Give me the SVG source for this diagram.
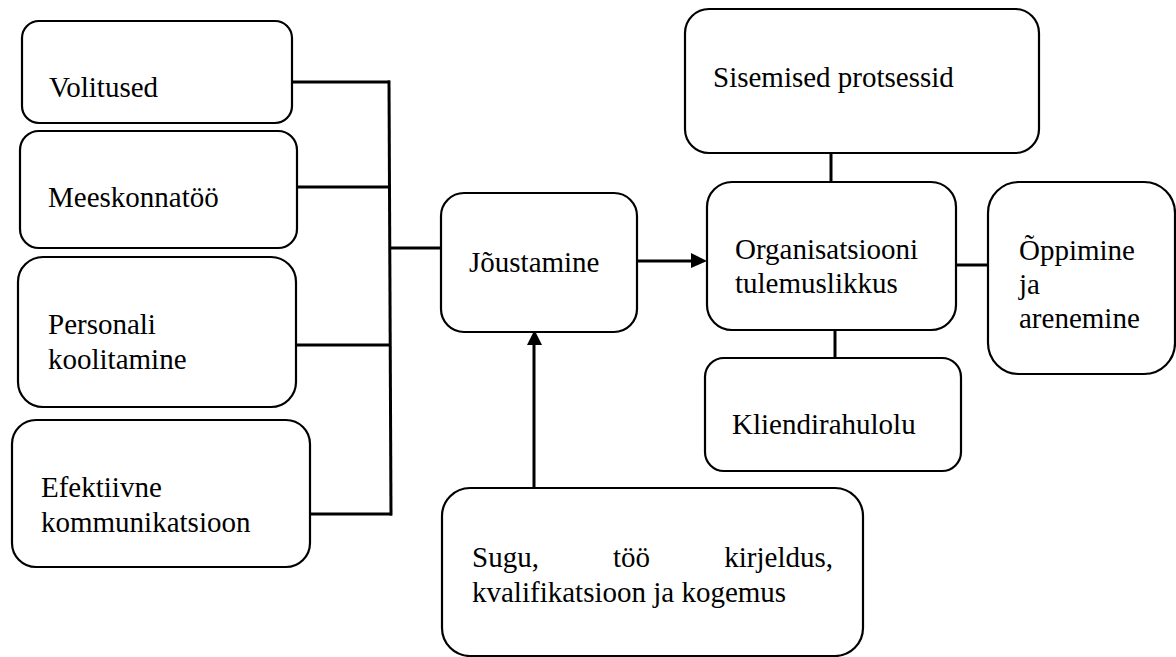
<svg xmlns="http://www.w3.org/2000/svg" width="1176" height="657" viewBox="0 0 1176 657">
<style>
.box{fill:#fff;stroke:#000;stroke-width:2.2}
.t{font-family:"Liberation Serif","Times New Roman",serif;font-size:29px;fill:#000}
.c{stroke:#000;stroke-width:3;fill:none}
</style>
<rect width="1176" height="657" fill="#fff"/>
<g id="connectors">
<line class="c" x1="292" y1="82" x2="390" y2="82"/>
<line class="c" x1="297" y1="187" x2="390" y2="187"/>
<line class="c" x1="296" y1="345" x2="391" y2="345"/>
<line class="c" x1="310" y1="514" x2="392" y2="514"/>
<line class="c" x1="389" y1="80.5" x2="391" y2="515.5"/>
<line class="c" x1="390" y1="248" x2="442" y2="248"/>
<line class="c" x1="637" y1="261" x2="692" y2="261"/>
<polygon points="691,253 707,261 691,268" fill="#000"/>
<line class="c" x1="534" y1="488" x2="534" y2="344"/>
<polygon points="527,345 534.5,330 542,345" fill="#000"/>
<line class="c" x1="831" y1="153" x2="831" y2="182"/>
<line class="c" x1="956" y1="265" x2="988" y2="265"/>
<line class="c" x1="835" y1="330" x2="835" y2="358"/>
</g>
<g id="volitused">
<rect class="box" x="22" y="21" width="270" height="102" rx="17"/>
<text class="t" x="49" y="97">Volitused</text>
</g>
<g id="meeskonnatoo">
<rect class="box" x="20" y="131" width="277" height="117" rx="19"/>
<text class="t" x="48" y="207">Meeskonnatöö</text>
</g>
<g id="personali">
<rect class="box" x="18" y="257" width="278" height="150" rx="25"/>
<text class="t" x="48" y="334">Personali</text>
<text class="t" x="48" y="369">koolitamine</text>
</g>
<g id="efektiivne">
<rect class="box" x="12" y="420" width="298" height="147" rx="24"/>
<text class="t" x="41" y="497">Efektiivne</text>
<text class="t" x="41" y="532">kommunikatsioon</text>
</g>
<g id="joustamine">
<rect class="box" x="441" y="193" width="196" height="139" rx="23"/>
<text class="t" x="469" y="272">Jõustamine</text>
</g>
<g id="sisemised">
<rect class="box" x="685" y="9" width="354" height="144" rx="24"/>
<text class="t" x="713" y="87">Sisemised protsessid</text>
</g>
<g id="organisatsioon">
<rect class="box" x="707" y="182" width="249" height="148" rx="25"/>
<text class="t" x="735" y="259">Organisatsiooni</text>
<text class="t" x="735" y="293">tulemuslikkus</text>
</g>
<g id="oppimine">
<rect class="box" x="988" y="182" width="187" height="192" rx="31"/>
<text class="t" x="1019" y="260">Õppimine</text>
<text class="t" x="1019" y="294">ja</text>
<text class="t" x="1019" y="328">arenemine</text>
</g>
<g id="kliendirahulolu">
<rect class="box" x="705" y="358" width="256" height="113" rx="19"/>
<text class="t" x="732" y="434">Kliendirahulolu</text>
</g>
<g id="sugu">
<rect class="box" x="442" y="488" width="421" height="168" rx="28"/>
<text class="t" x="472" y="567">Sugu,</text>
<text class="t" x="613" y="567">töö</text>
<text class="t" x="833" y="567" text-anchor="end">kirjeldus,</text>
<text class="t" x="472" y="602">kvalifikatsioon ja kogemus</text>
</g>
</svg>
